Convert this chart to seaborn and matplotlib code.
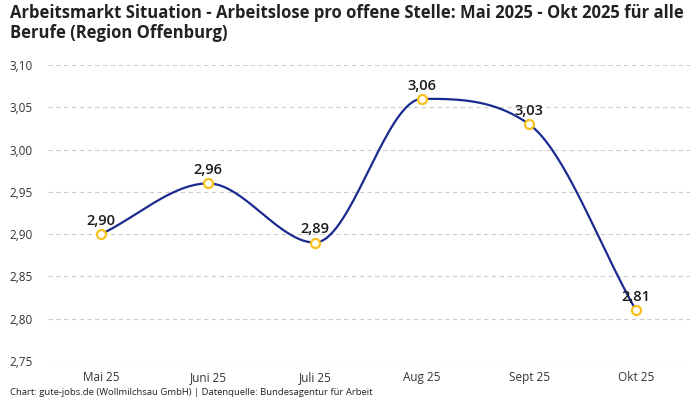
import numpy as np
import pandas as pd
import matplotlib
matplotlib.use("Agg")
import matplotlib.pyplot as plt
from matplotlib.ticker import FuncFormatter
import seaborn as sns

# data
monate = ["Mai 25", "Juni 25", "Juli 25", "Aug 25", "Sept 25", "Okt 25"]
werte = [2.90, 2.96, 2.89, 3.06, 3.03, 2.81]
y_ticks = [2.75, 2.80, 2.85, 2.90, 2.95, 3.00, 3.05, 3.10]

titel = "Arbeitsmarkt Situation - Arbeitslose pro offene Stelle: Mai 2025 - Okt 2025 für alle\nBerufe (Region Offenburg)"
quelle = "Chart: gute-jobs.de (Wollmilchsau GmbH) | Datenquelle: Bundesagentur für Arbeit"

LINIE = "#1b2a8e"
PUNKT = "#f7c21b"


def monotone_kurve(xs, ys, n=40):
    # monotone cubic smoothing like chart.js, only used to draw the line
    xs = np.asarray(xs, float)
    ys = np.asarray(ys, float)
    d = np.diff(ys) / np.diff(xs)
    m = np.zeros(len(ys))
    m[0] = d[0]
    m[-1] = d[-1]
    for i in range(1, len(ys) - 1):
        m[i] = 0 if d[i - 1] * d[i] <= 0 else (d[i - 1] + d[i]) / 2
    for i in range(len(d)):
        if d[i] == 0:
            m[i] = m[i + 1] = 0
            continue
        a, b = m[i] / d[i], m[i + 1] / d[i]
        s = a * a + b * b
        if s > 9:
            t = 3 / np.sqrt(s)
            m[i] = t * a * d[i]
            m[i + 1] = t * b * d[i]
    px, py = [], []
    t = np.linspace(0, 1, n)
    for i in range(len(d)):
        h = xs[i + 1] - xs[i]
        p0 = (xs[i], ys[i])
        p1 = (xs[i] + h / 3, ys[i] + m[i] * h / 3)
        p2 = (xs[i + 1] - h / 3, ys[i + 1] - m[i + 1] * h / 3)
        p3 = (xs[i + 1], ys[i + 1])
        bx = (1 - t) ** 3 * p0[0] + 3 * (1 - t) ** 2 * t * p1[0] + 3 * (1 - t) * t ** 2 * p2[0] + t ** 3 * p3[0]
        by = (1 - t) ** 3 * p0[1] + 3 * (1 - t) ** 2 * t * p1[1] + 3 * (1 - t) * t ** 2 * p2[1] + t ** 3 * p3[1]
        px.extend(bx)
        py.extend(by)
    return np.array(px), np.array(py)


sns.set_theme(style="white")
plt.rcParams["font.family"] = ["Open Sans", "DejaVu Sans"]

df = pd.DataFrame({"pos": np.arange(len(monate)), "Monat": monate, "Wert": werte})

fig = plt.figure(figsize=(7, 4), dpi=100)
ax = fig.add_axes([0.068, 0.0975, 0.917, 0.74])

kx, ky = monotone_kurve(df["pos"], df["Wert"])
ax.plot(kx, ky, color=LINIE, lw=1.6, zorder=3)
sns.scatterplot(data=df, x="pos", y="Wert", ax=ax, s=42, color="white",
                edgecolor=PUNKT, linewidth=1.6, zorder=4, clip_on=False)

for p, w in zip(df["pos"], df["Wert"]):
    ax.annotate(f"{w:.2f}".replace(".", ","), (p, w), xytext=(0, 4.5),
                textcoords="offset points", ha="center", va="bottom",
                fontsize=10.5, fontweight="semibold", color="#1a1a1a", zorder=5)

ax.set_xlim(-0.5, len(monate) - 0.5)
ax.set_ylim(2.75, 3.10)
ax.set_xticks(df["pos"])
ax.set_xticklabels(monate)
ax.set_yticks(y_ticks)
ax.yaxis.set_major_formatter(FuncFormatter(lambda v, _: f"{v:.2f}".replace(".", ",")))
ax.tick_params(axis="both", length=0, labelsize=8.5, colors="#333333")
ax.tick_params(axis="y", pad=11)
ax.tick_params(axis="x", pad=7)
ax.grid(axis="y", ls=(0, (4, 3)), color="#cccccc", lw=0.8)
ax.set_axisbelow(True)
for s in ax.spines.values():
    s.set_visible(False)
ax.set_xlabel("")
ax.set_ylabel("")

fig.text(0.014, 0.99, titel, ha="left", va="top", fontsize=12,
         fontweight="bold", color="#222222", linespacing=1.15)
fig.text(0.014, 0.008, quelle, ha="left", va="bottom", fontsize=6.8, color="#222222")

fig.savefig("out.png", dpi=100)
